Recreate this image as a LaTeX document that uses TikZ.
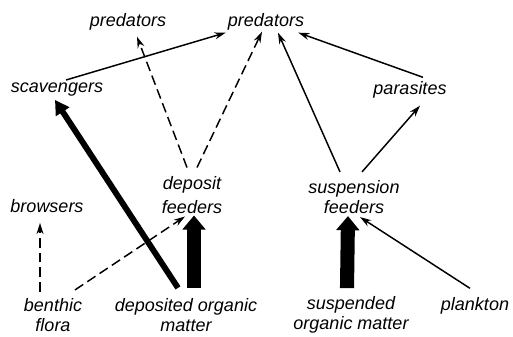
\documentclass[tikz,border=0pt]{standalone}
\usepackage{fontspec}
\newfontfamily\letterfont{Liberation Sans}
\usetikzlibrary{arrows.meta,calc}
\begin{document}
\begin{tikzpicture}[x=0.025cm, y=-0.025cm, line join=round,
    label/.style={font=\letterfont\itshape\fontsize{12.8}{14.5}\selectfont, align=center, inner sep=0pt},
    flow/.style={-{Stealth[length=8pt,width=5pt]}, line width=1.05pt},
    weak/.style={flow, dash pattern=on 7pt off 3.5pt},
    heavy/.style={-{Triangle[length=10pt,width=11pt]}, line width=4.2pt},
    main/.style={-{Triangle[length=10pt,width=16pt]}, line width=10pt}]
  \useasboundingbox (0,0) rectangle (513,336);
  % consumers
  \node[label] (predL) at (128,22) {predators};
  \node[label] (predM) at (266,22) {predators};
  \node[label] (scav) at (57,90) {scavengers};
  \node[label] (para) at (410,90) {parasites};
  \node[label] (dep) at (192,195) {deposit\\[2pt]feeders};
  \node[label] (susp) at (354,197) {suspension\\feeders};
  \node[label] (brow) at (47,206) {browsers};
  % food sources
  \node[label] (benth) at (53,315) {benthic\\flora};
  \node[label] (dom) at (186,315) {deposited\ organic\\matter};
  \node[label] (som) at (351,315) {suspended\\organic matter};
  \node[label] (plank) at (475,306) {plankton};
  % main flows
  \draw[main] ($(dom.north)+(8,-10)$) -- ($(dep.south)+(2,2)$);
  \draw[main] ($(som.north)+(-4,-8)$) -- ($(susp.south)+(-6,2)$);
  \draw[heavy] ($(dom.north)+(-8,-10)$) -- ($(scav.south)+(-2,3)$);
  % minor flows
  \draw[weak] ($(benth.north)+(-13,-6)$) -- ($(brow.south)+(-7,10)$);
  \draw[weak] ($(benth.north)+(22,-8)$) -- ($(dep.south)+(-7,3)$);
  \draw[weak] ($(dep.north)+(-5,-9)$) -- ($(predL.south)+(9,6)$);
  \draw[weak] ($(dep.north)+(5,-9)$) -- ($(predM.south)+(-4,1)$);
  \draw[flow] ($(plank.north)+(-5,-9)$) -- ($(susp.south)+(6,3)$);
  \draw[flow] ($(susp.north)+(-14,-8)$) -- ($(predM.south)+(12,2)$);
  \draw[flow] ($(susp.north)+(8,-8)$) -- ($(para.south)+(10,7)$);
  \draw[flow] ($(para.north)+(13,-4)$) -- ($(predM.south east)+(-6,2)$);
  \draw[flow] ($(scav.north)+(9,-3)$) -- ($(predM.south west)+(-2,2)$);
\end{tikzpicture}
\end{document}
